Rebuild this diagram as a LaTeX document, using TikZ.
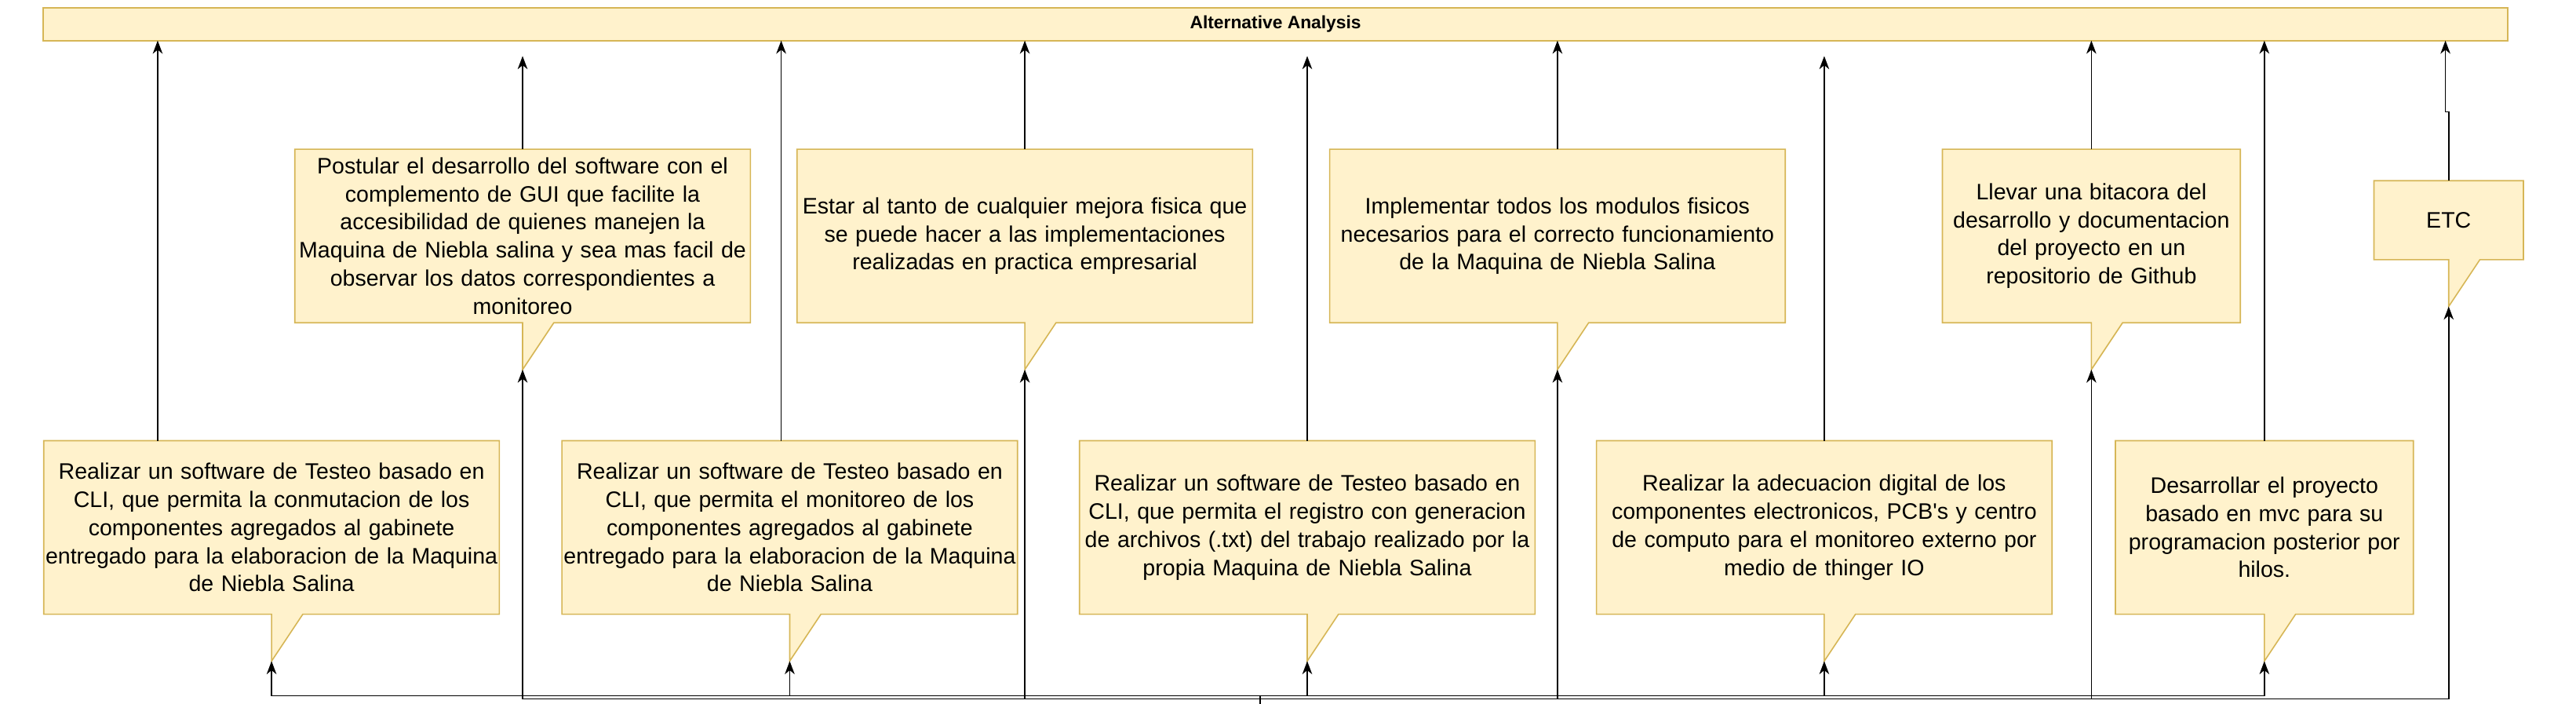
\documentclass[tikz,border=0pt]{standalone}
\usepackage{fontspec}
\setmainfont{Liberation Sans}
\usetikzlibrary{arrows.meta,calc,backgrounds}
\definecolor{notefill}{HTML}{FFF2CC}
\definecolor{notedraw}{HTML}{D6B656}
\tikzset{
    note/.style={align=center,inner sep=0pt,outer sep=0pt,font=\fontsize{19.4}{24.3}\selectfont},
    wide/.style={note,text width=138.65mm,minimum height=52.8mm},
    narrow/.style={note,text width=90.7mm,minimum height=52.8mm},
    notebox/.style={fill=notefill,draw=notedraw,line width=1.1pt},
    link/.style={line width=1pt,-{Stealth[length=4mm,width=3mm,inset=1.2mm]}},
}
\begin{document}
\begin{tikzpicture}[x=0.5mm,y=-0.5mm]
    \useasboundingbox (0,0) rectangle (1568,428.4);

    % the bar on top
    \node[fill=notefill,draw=notedraw,line width=1.1pt,minimum width=750.1mm,minimum height=9.95mm,
        inner sep=0pt,outer sep=0pt,font=\bfseries\fontsize{15.5}{18}\selectfont] (bar) at (776.4,14.75) {Alternative Analysis};

    % upper row of notes
    \node[wide] (t1) at (318.1,143.6) {Postular el desarrollo del software con el\\complemento de GUI que facilite la\\accesibilidad de quienes manejen la\\Maquina de Niebla salina y sea mas facil de\\observar los datos correspondientes a\\monitoreo};
    \node[wide] (t2) at (623.8,143.6) {Estar al tanto de cualquier mejora fisica que\\se puede hacer a las implementaciones\\realizadas en practica empresarial};
    \node[wide] (t3) at (948.0,143.6) {Implementar todos los modulos fisicos\\necesarios para el correcto funcionamiento\\de la Maquina de Niebla Salina};
    \node[narrow] (t4) at (1273.0,143.6) {Llevar una bitacora del\\desarrollo y documentacion\\del proyecto en un\\repositorio de Github};
    \node[note,text width=45.5mm,minimum height=24mm] (etc) at (1490.5,134) {ETC};

    % lower row of notes
    \node[wide] (b1) at (165.3,321) {Realizar un software de Testeo basado en\\CLI, que permita la conmutacion de los\\componentes agregados al gabinete\\entregado para la elaboracion de la Maquina\\de Niebla Salina};
    \node[wide] (b2) at (480.7,321) {Realizar un software de Testeo basado en\\CLI, que permita el monitoreo de los\\componentes agregados al gabinete\\entregado para la elaboracion de la Maquina\\de Niebla Salina};
    \node[wide] (b3) at (795.7,321) {Realizar un software de Testeo basado en\\CLI, que permita el registro con generacion\\de archivos (.txt) del trabajo realizado por la\\propia Maquina de Niebla Salina};
    \node[wide] (b4) at (1110.4,321) {Realizar la adecuacion digital de los\\componentes electronicos, PCB\textquotesingle s y centro\\de computo para el monitoreo externo por\\medio de thinger IO};
    \node[narrow] (b5) at (1378.3,321) {Desarrollar el proyecto\\basado en mvc para su\\programacion posterior por\\hilos.};

    % callout outlines behind the texts
    \begin{scope}[on background layer]
        \foreach \n in {t1,t2,t3,t4,etc,b1,b2,b3,b4,b5}{
            \coordinate (\n-tip) at ($(\n.south)+(0,28.5)$);
            \draw[notebox] (\n.north west) -- (\n.north east) -- (\n.south east)
                -- ($(\n.south)+(19,0)$) -- (\n-tip) -- (\n.south) -- (\n.south west) -- cycle;
        }
    \end{scope}

    % arrows up to the bar
    \coordinate (b1up) at ($(b1.north west)!0.25!(b1.north east)$);
    \coordinate (b2up) at ($(b2.north)+(-5.2,0)$);
    \coordinate (etcjog) at ($(etc.north)+(-2,0)$);
    \draw[link] (b1up) -- (b1up |- bar.south);
    \draw[link] (b2up) -- (b2up |- bar.south);
    \foreach \n in {t2,t3,t4,b5}
        \draw[link] (\n.north) -- (\n.north |- bar.south);
    \foreach \n in {t1,b3,b4}
        \draw[link,shorten >=4.7mm] (\n.north) -- (\n.north |- bar.south);
    \draw[link] (etc.north) -- ++(0,-42) -| (etcjog |- bar.south);

    % arrows from below to the tips
    \coordinate (src) at (767,428.4);
    \foreach \n in {b1,b2,b3,b4,b5}
        \draw[link] (src) -- ++(0,-4.9) -| (\n-tip);
    \foreach \n in {t1,t2,t3,t4,etc}
        \draw[link] (src) -- ++(0,-3) -| (\n-tip);
\end{tikzpicture}
\end{document}
